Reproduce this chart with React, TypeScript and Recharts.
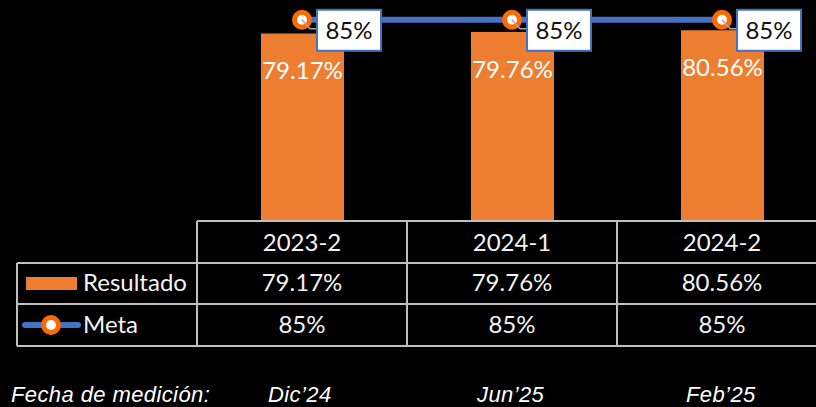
import { ComposedChart, Bar, Line, XAxis, YAxis, LabelList } from 'recharts';

const categories = ['2023-2', '2024-1', '2024-2'];
const resultado = [79.17, 79.76, 80.56];
const meta = [85, 85, 85];
const fechas = ['Dic’24', 'Jun’25', 'Feb’25'];

const data = categories.map((c, i) => ({ name: c, resultado: resultado[i], meta: meta[i] }));

const FONT = 'Lato, "Open Sans", sans-serif';
const DATE_FONT = '"Liberation Sans", Arial, sans-serif';
const ORANGE = '#ED7D31';
const BLUE = '#4472C4';
const MARKER = '#FF6A00';
const GRID = '#BFBFBF';

const pct = (v: number) => `${v.toFixed(2)}%`;

// each x-axis tick draws one column of the data table + measurement date
function TableTick(props: any) {
  const { x, y, payload, index } = props;
  const common = { fill: '#F2F2F2', fontSize: 24, fontFamily: FONT, textAnchor: 'middle' as const };
  return (
    <g>
      <text x={x} y={y + 23} dy="0.35em" {...common}>{payload.value}</text>
      <text x={x} y={y + 63} dy="0.35em" {...common}>{pct(resultado[index])}</text>
      <text x={x} y={y + 105} dy="0.35em" {...common}>{meta[index]}%</text>
      <text x={x - 34 - index} y={y + 182} fill="#fff" fontSize={22} fontStyle="italic" fontFamily={DATE_FONT} letterSpacing={0.4}>
        {fechas[index]}
      </text>
    </g>
  );
}

function BarValue(props: any) {
  const { x, y, width, value } = props;
  return (
    <text x={x + width / 2} y={y + 37} dy="0.35em" textAnchor="middle" fill="#fff" fontSize={24} fontFamily={FONT}>
      {pct(value)}
    </text>
  );
}

function MetaValue(props: any) {
  const { x, y, value } = props;
  return (
    <g>
      <polyline points={`${x},${y} ${x + 8},${y + 9} ${x + 15},${y + 9}`} fill="none" stroke="#A6A6A6" strokeWidth={1.5} />
      <rect x={x + 15} y={y - 10} width={64} height={41} fill="#fff" stroke={BLUE} strokeWidth={2} />
      <text x={x + 47} y={y + 10.5} dy="0.35em" textAnchor="middle" fill="#111" fontSize={24} fontFamily={FONT}>
        {value}%
      </text>
    </g>
  );
}

function MetaDot(props: any) {
  const { cx, cy } = props;
  return <circle cx={cx} cy={cy} r={7.5} fill="#fff" stroke={MARKER} strokeWidth={5} />;
}

export default function App() {
  return (
    <div style={{ position: 'absolute', left: 0, top: 0, width: 816, height: 407, overflow: 'hidden', background: '#000' }}>
      <svg width={816} height={407} style={{ position: 'absolute', left: 0, top: 0 }}>
        {/* table grid */}
        <line x1={197} y1={221} x2={816} y2={221} stroke={GRID} strokeWidth={2} />
        <line x1={17} y1={263} x2={816} y2={263} stroke={GRID} strokeWidth={2} />
        <line x1={17} y1={304} x2={816} y2={304} stroke={GRID} strokeWidth={2} />
        <line x1={17} y1={346} x2={816} y2={346} stroke={GRID} strokeWidth={2} />
        <line x1={17} y1={263} x2={17} y2={346} stroke={GRID} strokeWidth={2} />
        {[197, 407, 617].map(v => (
          <line key={v} x1={v} y1={221} x2={v} y2={346} stroke={GRID} strokeWidth={2} />
        ))}
        {/* legend keys */}
        <rect x={26} y={277} width={51} height={13} fill={ORANGE} />
        <text x={83} y={283} dy="0.35em" fill="#F2F2F2" fontSize={24} fontFamily={FONT}>Resultado</text>
        <line x1={25} y1={325} x2={78} y2={325} stroke={BLUE} strokeWidth={6} strokeLinecap="round" />
        <circle cx={51} cy={325} r={7.5} fill="#fff" stroke={MARKER} strokeWidth={5} />
        <text x={83} y={325} dy="0.35em" fill="#F2F2F2" fontSize={24} fontFamily={FONT}>Meta</text>
        <text x={11} y={402} fill="#fff" fontSize={22} fontStyle="italic" fontFamily={DATE_FONT} letterSpacing={0.4}>
          Fecha de medición:
        </text>
      </svg>
      <div style={{ position: 'absolute', left: 0, top: 0 }}>
        <ComposedChart width={840} height={407} data={data} margin={{ top: 8, right: 13, left: 197, bottom: 0 }}>
          <XAxis dataKey="name" height={187} axisLine={false} tickLine={false} tickSize={0} tickMargin={0}
            tick={<TableTick />} interval={0} />
          <YAxis hide domain={[0, 90]} />
          <Bar dataKey="resultado" fill={ORANGE} barSize={83} isAnimationActive={false}>
            <LabelList dataKey="resultado" content={<BarValue />} />
          </Bar>
          <Line dataKey="meta" stroke={BLUE} strokeWidth={6} dot={<MetaDot />} activeDot={false} isAnimationActive={false}>
            <LabelList dataKey="meta" content={<MetaValue />} />
          </Line>
        </ComposedChart>
      </div>
    </div>
  );
}
